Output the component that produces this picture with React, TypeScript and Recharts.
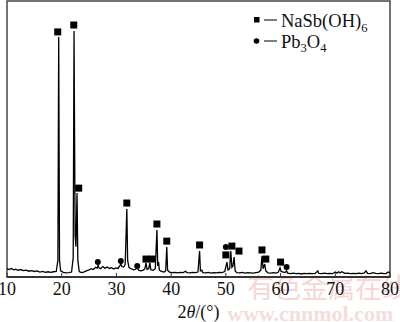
import React from "react";
import {
  ComposedChart,
  Line,
  Scatter,
  XAxis,
  YAxis,
  ReferenceArea,
  Legend,
} from "recharts";

// XRD pattern: [2θ (°), intensity (a.u.)]
const pattern: [number, number][] = [
  [10.0, 30], [10.4, 27], [10.8, 31], [11.2, 26], [11.6, 28], [12.0, 24], [12.5, 27], [13.0, 23],
  [13.5, 25], [14.0, 21], [14.5, 23], [15.0, 20], [15.5, 22], [16.0, 18], [16.5, 20], [17.0, 17],
  [17.5, 19], [18.0, 17], [18.5, 19], [19.0, 20], [19.3, 60], [19.45, 870], [19.6, 60], [19.8, 22],
  [20.3, 17], [20.8, 15], [21.3, 16], [21.8, 18], [22.1, 70], [22.25, 891], [22.45, 150], [22.6, 110],
  [22.8, 304], [22.95, 60], [23.2, 20], [23.6, 16], [24.0, 18], [24.5, 22], [25.0, 26], [25.4, 30],
  [25.8, 27], [26.2, 35], [26.5, 32], [26.65, 43], [26.8, 33], [27.1, 30], [27.5, 38], [27.9, 32],
  [28.3, 36], [28.7, 31], [29.1, 34], [29.5, 29], [29.9, 33], [30.3, 31], [30.6, 40], [30.8, 47],
  [31.0, 38], [31.3, 36], [31.6, 45], [31.9, 246], [32.05, 60], [32.3, 34], [32.7, 30], [33.1, 26],
  [33.5, 28], [33.8, 33], [34.1, 24], [34.5, 22], [34.9, 25], [35.2, 30], [35.4, 51], [35.6, 28],
  [35.9, 30], [36.1, 51], [36.3, 26], [36.7, 24], [37.1, 30], [37.4, 170], [37.55, 40], [37.7, 54],
  [37.85, 25], [38.2, 20], [38.7, 18], [39.0, 22], [39.2, 109], [39.35, 25], [39.7, 18], [40.2, 16],
  [40.7, 17], [41.2, 15], [41.7, 17], [42.2, 16], [42.6, 21], [42.9, 16], [43.4, 15], [43.9, 17],
  [44.4, 16], [44.9, 18], [45.2, 94], [45.35, 22], [45.6, 25], [45.8, 16], [46.3, 15], [46.8, 17],
  [47.3, 14], [47.8, 16], [48.3, 15], [48.8, 17], [49.3, 16], [49.8, 20], [50.2, 54], [50.4, 25],
  [50.7, 30], [50.9, 94], [51.1, 35], [51.3, 40], [51.5, 72], [51.7, 22], [52.0, 16], [52.5, 15],
  [53.0, 17], [53.5, 14], [54.0, 16], [54.5, 15], [55.0, 14], [55.5, 16], [56.0, 18], [56.4, 25],
  [56.6, 76], [56.8, 30], [57.1, 47], [57.3, 22], [57.7, 15], [58.2, 14], [58.7, 16], [59.2, 14],
  [59.6, 18], [59.9, 33], [60.1, 20], [60.5, 18], [60.8, 16], [61.1, 22], [61.3, 14], [61.8, 12],
  [62.3, 14], [62.8, 12], [63.3, 13], [63.8, 11], [64.3, 13], [64.8, 12], [65.3, 13], [65.8, 12],
  [66.3, 13], [66.8, 22], [67.0, 13], [67.5, 12], [68.0, 14], [68.5, 12], [69.0, 13], [69.5, 12],
  [70.0, 18], [70.3, 14], [70.6, 19], [70.9, 15], [71.2, 19], [71.5, 16], [71.8, 13], [72.3, 14],
  [72.8, 12], [73.3, 13], [73.8, 12], [74.3, 14], [74.8, 12], [75.3, 15], [75.6, 22], [75.9, 13],
  [76.4, 12], [76.9, 16], [77.4, 13], [77.9, 12], [78.4, 14], [78.9, 12], [79.3, 13], [79.7, 18],
  [80.0, 14],
];

// Phase markers: [2θ, marker height]
const nasbMarkers: [number, number][] = [
  [19.27, 888], [22.2, 913], [23.1, 322], [31.9, 268], [35.4, 65], [36.5, 65], [37.4, 192],
  [39.2, 130], [45.2, 116], [50.0, 80], [51.1, 112], [52.4, 94], [56.6, 98], [57.3, 65], [60.0, 54],
];
const pb3o4Markers: [number, number][] = [
  [26.6, 54], [30.8, 58], [33.8, 40], [50.0, 109], [61.1, 36],
];

const xTicks = [10, 20, 30, 40, 50, 60, 70, 80];

const lineData = pattern.map(([x, y]) => ({ x, y }));
const squareData = nasbMarkers.map(([x, y]) => ({ x, y }));
const circleData = pb3o4Markers.map(([x, y]) => ({ x, y }));

const SERIF = "'Liberation Serif', 'Times New Roman', serif";

const XTick = (props: any) => {
  const { x, y, payload } = props;
  return (
    <g>
      <line x1={x} x2={x} y1={y} y2={y - 4} stroke="#333" strokeWidth={1} />
      <text x={x} y={y + 18} textAnchor="middle" fontFamily={SERIF} fontSize={18} fill="#111">
        {payload.value}
      </text>
    </g>
  );
};

const SquareShape = (p: any) => (
  <rect x={p.cx - 3.5} y={p.cy - 3.5} width={7} height={7} fill="#000" />
);
const CircleShape = (p: any) => <circle cx={p.cx} cy={p.cy} r={3} fill="#000" />;

const AxisTitle = (props: any) => {
  const vb = props.viewBox || { x: 7, y: 277, width: 383 };
  return (
    <text
      x={vb.x + vb.width / 2}
      y={vb.y + 41}
      textAnchor="middle"
      fontFamily={SERIF}
      fontSize={18}
      fill="#111"
    >
      2<tspan fontStyle="italic">θ</tspan>/(°)
    </text>
  );
};

const LegendContent = () => (
  <svg width={400} height={60} style={{ display: "block" }}>
    <rect x={254} y={17} width={5.5} height={5.5} fill="#000" />
    <line x1={264} x2={277} y1={20} y2={20} stroke="#000" strokeWidth={1} />
    <text x={281} y={27} fontFamily={SERIF} fontSize={18.5} fill="#111">
      NaSb(OH)
      <tspan fontSize={12.5} dy={5}>6</tspan>
    </text>
    <circle cx={256.5} cy={41} r={2.8} fill="#000" />
    <line x1={264} x2={277} y1={41} y2={41} stroke="#000" strokeWidth={1} />
    <text x={281} y={48} fontFamily={SERIF} fontSize={18.5} fill="#111">
      Pb
      <tspan fontSize={12.5} dy={4}>3</tspan>
      <tspan fontSize={18.5} dy={-4}>O</tspan>
      <tspan fontSize={12.5} dy={4}>4</tspan>
    </text>
  </svg>
);

export default function App() {
  return (
    <div style={{ position: "absolute", left: 0, top: 0, width: 400, height: 322, background: "#fff" }}>
      <div
        style={{
          position: "absolute",
          left: 247,
          top: 273,
          fontFamily: "'Noto Sans CJK SC', sans-serif",
          fontSize: 27,
          lineHeight: 1,
          color: "#f6d6d6",
          whiteSpace: "nowrap",
          width: 153,
          overflow: "hidden",
        }}
      >
        有色金属在线
      </div>
      <div
        style={{
          position: "absolute",
          left: 227,
          top: 303,
          fontFamily: SERIF,
          fontWeight: "bold",
          fontSize: 22,
          lineHeight: 1,
          color: "#f4dddd",
          whiteSpace: "nowrap",
          width: 173,
          overflow: "hidden",
        }}
      >
        www.cnnmol.com
      </div>
      <div style={{ position: "absolute", left: 0, top: 0 }}>
        <ComposedChart width={400} height={322} margin={{ top: 1, right: 10, left: 7, bottom: 0 }}>
          <XAxis
            dataKey="x"
            type="number"
            domain={[10, 80]}
            ticks={xTicks}
            interval={0}
            tickSize={0}
            tickMargin={0}
            tickLine={false}
            axisLine={{ stroke: "#222", strokeWidth: 1.5 }}
            tick={<XTick />}
            height={45}
            allowDataOverflow
            label={<AxisTitle />}
          />
          <YAxis type="number" domain={[0, 1000]} hide allowDataOverflow />
          <ReferenceArea
            x1={10}
            x2={80}
            y1={0}
            y2={1000}
            fill="none"
            stroke="#444"
            strokeWidth={1.5}
            fillOpacity={0}
          />
          <Line
            data={lineData}
            dataKey="y"
            type="linear"
            stroke="#000"
            strokeWidth={1.3}
            dot={false}
            isAnimationActive={false}
          />
          <Scatter data={squareData} dataKey="y" shape={SquareShape} isAnimationActive={false} />
          <Scatter data={circleData} dataKey="y" shape={CircleShape} isAnimationActive={false} />
          <Legend
            content={<LegendContent />}
            layout="horizontal"
            verticalAlign="middle"
            align="center"
            wrapperStyle={{ position: "absolute", left: 0, top: 0, width: 400, height: 60 }}
          />
        </ComposedChart>
      </div>
    </div>
  );
}
